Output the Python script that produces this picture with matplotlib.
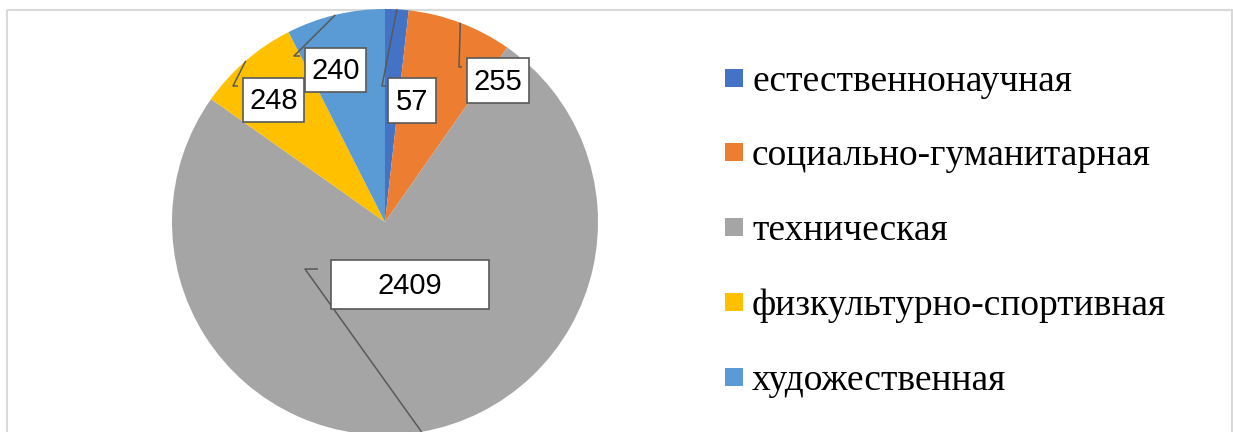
import numpy as np
import matplotlib.pyplot as plt
from matplotlib.patches import Rectangle

# данные
categories = ["естественнонаучная", "социально-гуманитарная", "техническая",
              "физкультурно-спортивная", "художественная"]
values = [57, 255, 2409, 248, 240]
colors = ["#4472C4", "#ED7D31", "#A5A5A5", "#FFC000", "#5B9BD5"]

# раскладка подписей (пиксели): рамка left, top, w, h; излом выноски; конец засечки
label_boxes = [(388, 78, 48, 45), (467, 58, 62, 45), (331, 260, 158, 49),
               (243, 78, 61, 44), (305, 48, 61, 44)]
elbows = [(382, 86), (459, 67), (305, 269), (233, 86), (294, 56)]
tick_ends = [386, 462, 318, 238, 300]

W, H = 1233, 432
fig = plt.figure(figsize=(W / 100, H / 100), dpi=100)
ax = fig.add_axes([0, 0, 1, 1])

cx, cy, R = 385, 222, 213
wedges, _ = ax.pie(values, colors=colors, startangle=-90, counterclock=True,
                   center=(cx, cy), radius=R, wedgeprops=dict(linewidth=0))

ax.set_xlim(0, W)
ax.set_ylim(H, 0)
ax.set_aspect("auto")
ax.axis("off")

# рамка диаграммы
ax.add_patch(Rectangle((7, 10), 1225, 440, fill=False, edgecolor="#d9d9d9",
                       linewidth=1.5, zorder=0, clip_on=False))

line_col = "#595959"
for w, v, box, el, te in zip(wedges, values, label_boxes, elbows, tick_ends):
    mid = np.deg2rad((w.theta1 + w.theta2) / 2)
    ex, ey = cx + R * np.cos(mid), cy + R * np.sin(mid)
    ax.plot([ex, el[0], te], [ey, el[1], el[1]], color=line_col, lw=1.1,
            solid_capstyle="butt", zorder=3)
    l, t, bw, bh = box
    ax.add_patch(Rectangle((l, t), bw, bh, facecolor="white", edgecolor=line_col,
                           linewidth=1.2, zorder=4))
    ax.text(l + bw / 2, t + bh / 2 + 1, str(v), ha="center", va="center",
            fontsize=21, family="Liberation Sans", color="black", zorder=5)

# легенда
leg_y = [78, 152, 227, 302, 377]
for c, name, y in zip(colors, categories, leg_y):
    ax.add_patch(Rectangle((725, y - 9), 18, 18, facecolor=c, edgecolor="none"))
    ax.text(752, y + 13, name, ha="left", va="baseline", fontsize=27,
            family="Liberation Serif", color="black")

fig.savefig("out.png", dpi=100)
